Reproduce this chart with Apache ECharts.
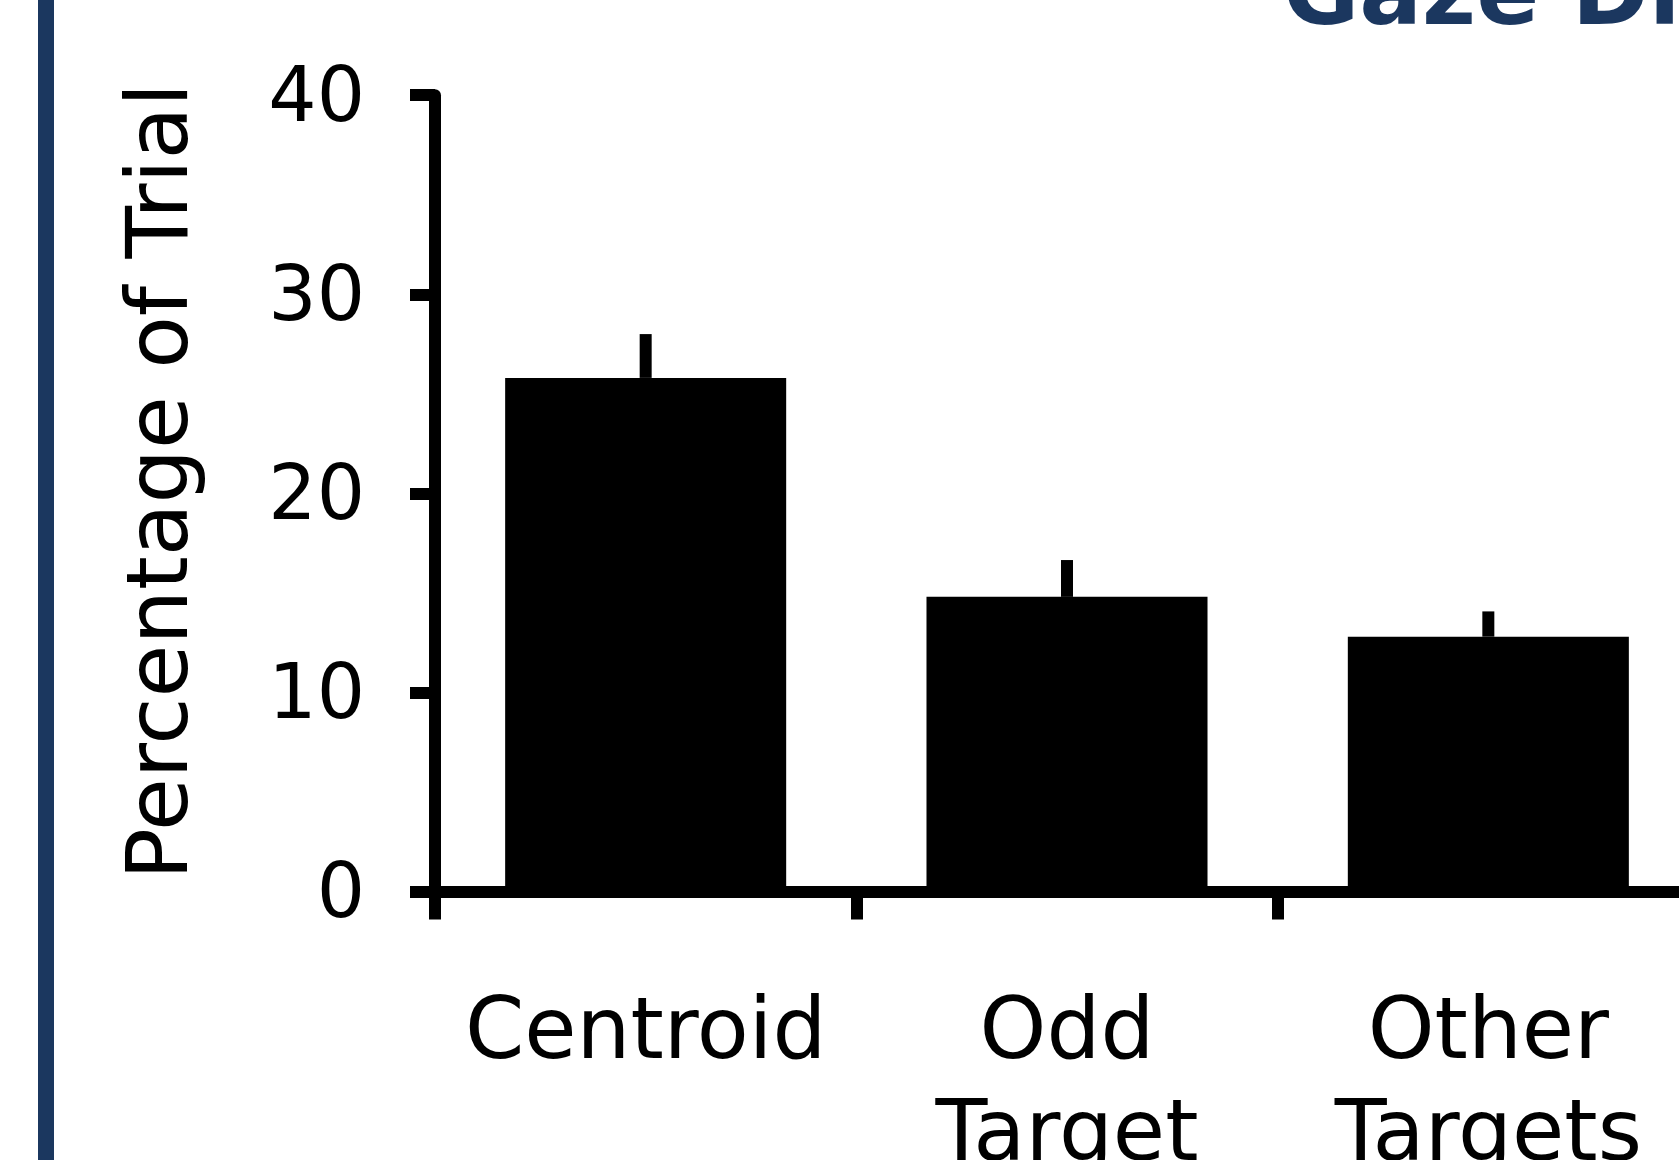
<!DOCTYPE html>
<html>
<head>
<meta charset="utf-8">
<script src="https://cdn.jsdelivr.net/npm/echarts@6/dist/echarts.min.js"></script>
<style>
    html, body { margin: 0; padding: 0; background: #fff; }
    #chart { width: 1679px; height: 1160px; }
</style>
</head>
<body>
<div id="chart"></div>
<script>
    // data
    const categories = ['Centroid', 'Odd\nTarget', 'Other\nTargets']
    const meanPct = [25.8, 14.8, 12.8]
    const errPct = [2.2, 1.85, 1.27]
    const yTicks = [0, 10, 20, 30, 40]

    const navy = '#1b375f'
    const font = 'DejaVu Sans'

    let myChart = echarts.init(document.getElementById('chart'))

    let errData = meanPct.map((m, i) => [i, m, m + errPct[i]])

    let option = {
        backgroundColor: '#fff',
        animation: false,
        textStyle: { fontFamily: font },
        graphic: [
            // navy rule on the left edge of the panel
            { type: 'rect', shape: { x: 38, y: 0, width: 16, height: 1160 }, style: { fill: navy } },
            {
                type: 'text', x: 1283, y: 0,
                style: {
                    text: 'Gaze Distribution', fill: navy,
                    font: 'bold 93px "DejaVu Sans"', align: 'left', verticalAlign: 'middle'
                }
            }
        ],
        grid: {
            left: 435,
            right: -20,
            top: 95.2,
            bottom: 268.5,
            outerBoundsMode: 'none'
        },
        xAxis: {
            type: 'category',
            data: categories,
            axisLine: { lineStyle: { color: '#000', width: 12 } },
            axisTick: { show: true, length: 28, lineStyle: { color: '#000', width: 12 } },
            axisLabel: {
                color: '#000', fontSize: 85, fontFamily: font,
                lineHeight: 102, margin: 93, interval: 0
            },
            splitLine: { show: false }
        },
        yAxis: {
            type: 'value',
            min: yTicks[0],
            max: yTicks[yTicks.length - 1],
            interval: 10,
            name: 'Percentage of Trial',
            nameLocation: 'middle',
            nameGap: 227,
            nameTextStyle: { color: '#000', fontSize: 86, fontFamily: font, padding: [0, 0, 0, 24] },
            axisLine: { show: true, lineStyle: { color: '#000', width: 12 } },
            axisTick: { show: true, length: 25, lineStyle: { color: '#000', width: 12 } },
            axisLabel: {
                color: '#000', fontSize: 76, fontFamily: font, margin: 70,
                verticalAlign: 'top', lineHeight: 12
            },
            splitLine: { show: false }
        },
        series: [
            {
                type: 'bar',
                data: meanPct,
                barWidth: '66.7%',
                itemStyle: { color: '#000' },
                z: 2
            },
            {
                type: 'custom',
                data: errData,
                z: 3,
                renderItem: function (params, api) {
                    let lo = api.coord([api.value(0), api.value(1)])
                    let hi = api.coord([api.value(0), api.value(2)])
                    return {
                        type: 'line',
                        shape: { x1: lo[0], y1: lo[1], x2: hi[0], y2: hi[1] },
                        style: { stroke: '#000', lineWidth: 12, lineCap: 'butt' }
                    }
                }
            }
        ]
    }

    myChart.setOption(option, true)
</script>
</body>
</html>
